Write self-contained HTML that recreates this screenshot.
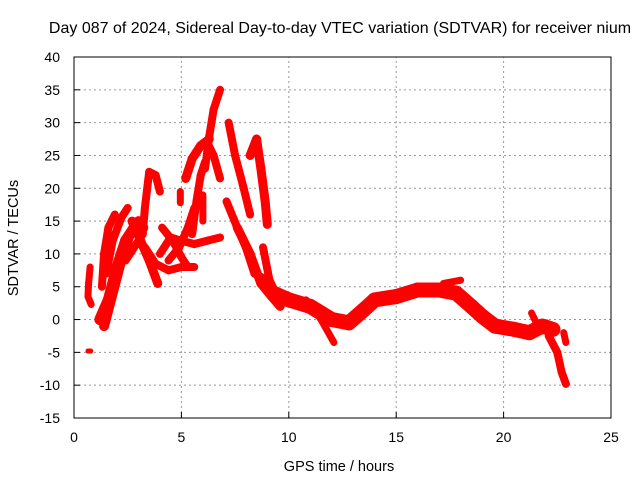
<!DOCTYPE html>
<html><head><meta charset="utf-8"><style>
body{margin:0;background:#fff}
svg{display:block;font-family:"Liberation Sans",sans-serif}
</style></head><body>
<svg id="chart" width="640" height="480">
<text x="340" y="33" text-anchor="middle" font-size="16">Day 087 of 2024, Sidereal Day-to-day VTEC variation (SDTVAR) for receiver nium</text>
<text x="339" y="471" text-anchor="middle" font-size="14.5">GPS time / hours</text>
<text transform="translate(18,238) rotate(-90)" text-anchor="middle" font-size="14.5">SDTVAR / TECUs</text>
<g id="grid"></g><g id="marks"></g>
<rect x="74" y="57" width="537" height="361" fill="none" stroke="#000" stroke-width="1"/>
</svg>
<script>
const xTicks=[0,5,10,15,20,25];
const yTicks=[-15,-10,-5,0,5,10,15,20,25,30,35,40];
const trackA=[[0.75,8],[0.68,5.5],[0.65,3.5],[0.8,2.3]];
const trackA2=[[0.65,-4.8],[0.78,-4.8]];
const trackB=[[1.2,0],[1.6,3],[2.0,8],[2.4,12],[2.8,14],[3.2,14]];
const trackB2=[[1.4,-1],[1.8,4],[2.2,9],[2.6,13],[3.0,15]];
const trackC=[[1.3,5],[1.4,10],[1.6,14],[1.9,16]];
const trackC2=[[1.5,7],[1.8,12],[2.2,15.5],[2.5,17]];
const trackD=[[2.4,9],[2.8,11],[3.2,13],[3.3,17],[3.5,22.5],[3.8,22],[4.0,19.5]];
const trackE=[[2.7,15],[3.1,12],[3.5,9],[3.9,5.5]];
const trackF=[[3.3,11],[3.8,8.5],[4.4,7.5],[5.0,8],[5.6,8]];
const trackG=[[4.0,10],[4.5,12.5],[5.0,12],[5.6,11.5],[6.2,12],[6.8,12.5]];
const trackH=[[4.1,14],[4.6,12],[5.0,9.5],[5.3,8]];
const trackH2=[[4.4,9],[4.9,11],[5.3,14],[5.6,17]];
const trackI=[[4.95,19.5],[4.95,17.8]];
const trackJ=[[5.2,21.5],[5.5,24.5],[5.9,26.5],[6.3,27.5]];
const trackK=[[5.5,13],[5.7,18],[5.9,22],[6.1,24]];
const trackK2=[[6.0,15],[6.0,19]];
const trackL=[[6.1,23],[6.3,28],[6.5,32],[6.8,35]];
const trackL2=[[6.2,27],[6.5,25],[6.8,21.5]];
const trackN=[[7.2,30],[7.5,25],[7.9,20],[8.2,16]];
const trackO=[[8.2,25],[8.5,27.5],[8.7,23],[8.9,18],[9.0,14.5]];
const trackP=[[7.1,18],[7.6,14],[8.0,11],[8.4,7],[9.0,6]];
const trackQ=[[7.6,14],[8.2,10],[8.7,5.5],[9.2,3.5],[9.6,2]];
const trackR=[[8.8,11],[9.1,6],[9.4,4]];
const trackMain=[[9.3,4],[10,3],[11,2],[12,0],[12.8,-0.5],[13.5,1.5],[14,3],[15,3.5],[16,4.5],[17,4.5],[17.8,4],[18.5,2],[19,0.5],[19.6,-1],[20.5,-1.5],[21.2,-2],[21.8,-1],[22.3,-1.5]];
const trackS=[[10.8,3],[11.5,0],[12.1,-3.5]];
const trackT=[[17.2,5.5],[18,6]];
const trackU=[[21.3,1],[21.6,-1],[22.0,-0.5]];
const trackV=[[22.1,-2.5],[22.5,-5],[22.7,-8],[22.9,-9.8]];
const trackW=[[22.8,-2],[22.9,-3.5]];
const tracks=[[trackA,7],[trackA2,5],[trackB,11],[trackB2,10],[trackC,8],[trackC2,8],[trackD,8],[trackE,9],[trackF,8],[trackG,8],[trackH,8],[trackH2,8],[trackI,7],[trackJ,9],[trackK,8],[trackK2,7],[trackL,8],[trackL2,8],[trackN,8],[trackO,9],[trackP,8],[trackQ,9],[trackR,8],[trackMain,15],[trackS,7],[trackT,7],[trackU,7],[trackV,8],[trackW,7]];
const X0=74,X1=611,Y0=418,Y1=57;
const xs=v=>X0+(v-0)/25*(X1-X0);
const ys=v=>Y0-(v+15)/55*(Y0-Y1);
const NS="http://www.w3.org/2000/svg";
const grid=document.getElementById('grid'),marks=document.getElementById('marks');
function mk(t,a,p){const e=document.createElementNS(NS,t);for(const k in a)e.setAttribute(k,a[k]);p.appendChild(e);return e;}
xTicks.forEach(t=>{const x=xs(t);
 if(t>0&&t<25){const g=mk('line',{x1:x,x2:x,y1:Y0,y2:Y1,stroke:'#999','stroke-dasharray':'2,3'},grid);
 
 }
 const tk=mk('line',{x1:x,x2:x,y1:Y0,y2:Y0-6,stroke:'#000'},grid);
 
 
 const l=mk('text',{x:x,y:Y0+24,'text-anchor':'middle','font-size':'14'},grid);l.textContent=t;
 
 });
yTicks.forEach(t=>{const y=ys(t);
 if(t>-15&&t<40){const g=mk('line',{x1:X0,x2:X1,y1:y,y2:y,stroke:'#999','stroke-dasharray':'2,3'},grid);
 
 }
 const tk=mk('line',{x1:X0,x2:X0+6,y1:y,y2:y,stroke:'#000'},grid);
 
 
 const l=mk('text',{x:X0-14,y:y+5,'text-anchor':'end','font-size':'14'},grid);l.textContent=t;
 
 });
tracks.forEach(([tr,w])=>{
 for(let i=0;i<tr.length-1;i++){
  const seg=mk('line',{x1:xs(tr[i][0]),y1:ys(tr[i][1]),x2:xs(tr[i+1][0]),y2:ys(tr[i+1][1]),stroke:'#f00','stroke-width':w,'stroke-linecap':'round'},marks);
  
  
 }
});
</script>
</body></html>
